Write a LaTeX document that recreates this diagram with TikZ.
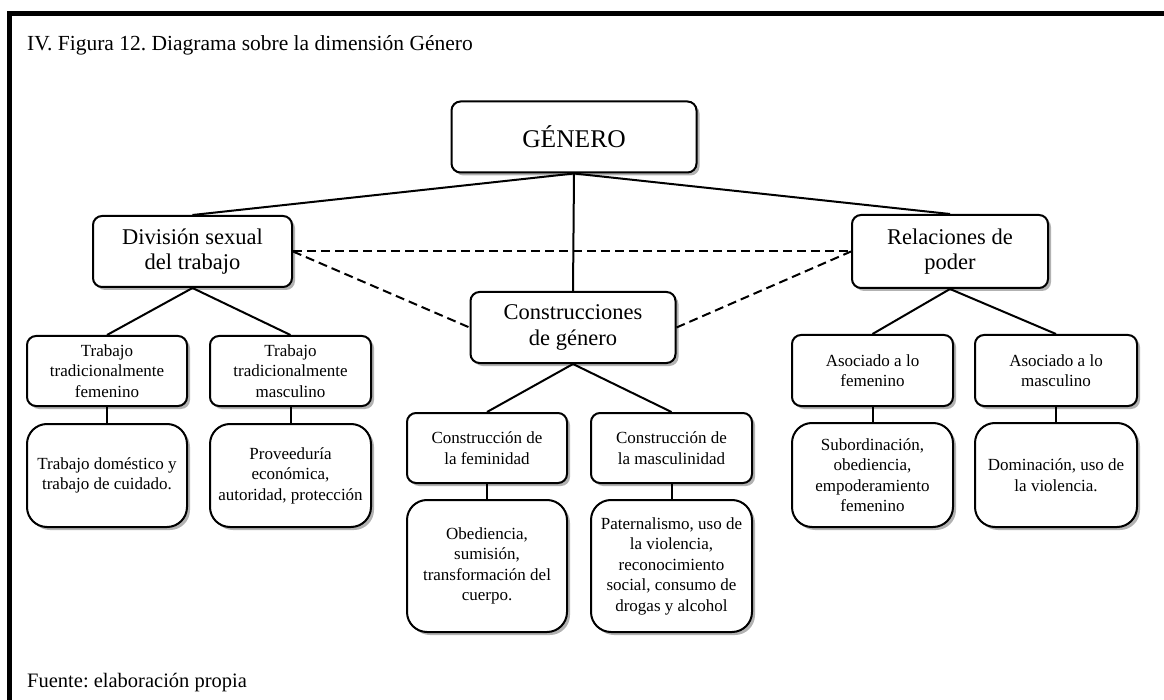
\documentclass[tikz,border=0pt]{standalone}
\usepackage{fontspec}
\setmainfont{Liberation Serif}
\usetikzlibrary{shadows}
\frenchspacing
\tikzset{
  box/.style={draw, line width=2pt, rounded corners=9pt, fill=white, align=center, inner sep=0pt,
    drop shadow={shadow xshift=3pt, shadow yshift=-3pt, fill=black, opacity=0.3}},
  lvl0/.style={box, font=\fontsize{25.5}{29}\selectfont},
  lvl1/.style={box, font=\fontsize{22.5}{25.5}\selectfont},
  lvl2/.style={box, font=\fontsize{17}{20.5}\selectfont},
  leaf/.style={lvl2, rounded corners=20pt},
  link/.style={line width=2pt},
  dlink/.style={link, dash pattern=on 9pt off 5pt},
  frame/.style={line width=4.5pt},
  caption/.style={anchor=base west, inner sep=0pt, font=\fontsize{21.5}{25}\selectfont},
}
\begin{document}
\begin{tikzpicture}[x=1pt, y=-1pt]
\useasboundingbox[fill=white] (0,0) rectangle (1164,700);
% frame
\coordinate (ftl) at (9.5,13.5);
\coordinate (ftr) at (1164,13.5);
\coordinate (fbl) at (9.5,700);
\draw[frame] (ftr) -- (ftl) -- (fbl);
\node[caption] (title) at (27,51) {IV. Figura 12. Diagrama sobre la dimensión Género};
\node[caption, font=\fontsize{20.5}{24}\selectfont] (fuente) at (27,687) {Fuente: elaboración propia};

% nodes
\node[lvl0, minimum width=245pt, minimum height=71pt] (gen) at (574,137) {GÉNERO};
\node[lvl1, minimum width=199pt, minimum height=71pt] (div) at (192.5,251.5) {División sexual\\del trabajo};
\node[lvl1, minimum width=196pt, minimum height=73pt] (rel) at (950,251.5) {Relaciones de\\poder};
\node[lvl1, minimum width=205pt, minimum height=71pt] (cons) at (573,327.5) {Construcciones\\de género};

\node[lvl2, minimum width=160pt, minimum height=70pt] (tf) at (107,371) {Trabajo\\tradicionalmente\\femenino};
\node[lvl2, minimum width=161pt, minimum height=70pt] (tm) at (290.5,371) {Trabajo\\tradicionalmente\\masculino};
\node[leaf, minimum width=160pt, minimum height=103pt] (df) at (107,475.5) {Trabajo doméstico y\\trabajo de cuidado.};
\node[leaf, minimum width=161pt, minimum height=103pt] (dm) at (290.5,475.5) {Proveeduría\\económica,\\autoridad, protección};

\node[lvl2, minimum width=160pt, minimum height=70pt] (cf) at (487,448) {Construcción de\\la feminidad};
\node[lvl2, minimum width=161pt, minimum height=70pt] (cm) at (671.5,448) {Construcción de\\la masculinidad};
\node[leaf, minimum width=160pt, minimum height=132pt] (of) at (487,566) {Obediencia,\\sumisión,\\transformación del\\cuerpo.};
\node[leaf, minimum width=161pt, minimum height=132pt] (om) at (671.5,566) {Paternalismo, uso de\\la violencia,\\reconocimiento\\social, consumo de\\drogas y alcohol};

\node[lvl2, minimum width=161pt, minimum height=71pt] (af) at (872.5,370.5) {Asociado a lo\\femenino};
\node[lvl2, minimum width=162pt, minimum height=71pt] (am) at (1056,370.5) {Asociado a lo\\masculino};
\node[leaf, minimum width=161pt, minimum height=104pt] (sf) at (872.5,475) {Subordinación,\\obediencia,\\empoderamiento\\femenino};
\node[leaf, minimum width=162pt, minimum height=104pt] (sm) at (1056,475) {Dominación, uso de\\la violencia.};

% connectors
\draw[link] (gen.south) -- (div.north);
\draw[link] (gen.south) -- (rel.north);
\draw[link] (gen.south) -- (cons.north);
\draw[dlink] (div.east) -- (rel.west);
\draw[dlink] (div.east) -- (cons.west);
\draw[dlink] (cons.east) -- (rel.west);

\draw[link] (div.south) -- (tf.north);
\draw[link] (div.south) -- (tm.north);
\draw[link] (tf.south) -- (df.north);
\draw[link] (tm.south) -- (dm.north);

\draw[link] (cons.south) -- (cf.north);
\draw[link] (cons.south) -- (cm.north);
\draw[link] (cf.south) -- (of.north);
\draw[link] (cm.south) -- (om.north);

\draw[link] (rel.south) -- (af.north);
\draw[link] (rel.south) -- (am.north);
\draw[link] (af.south) -- (sf.north);
\draw[link] (am.south) -- (sm.north);
\end{tikzpicture}
\end{document}
